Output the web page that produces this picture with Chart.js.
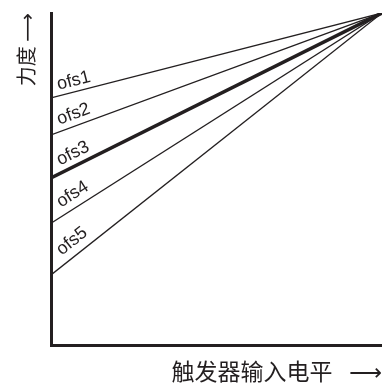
<!DOCTYPE html>
<html>
<head>
<meta charset="utf-8">
<script src="https://cdn.jsdelivr.net/npm/chart.js@4"></script>
<style>
  html, body { margin: 0; padding: 0; background: #fff; }
</style>
</head>
<body>
<canvas id="trigChart" width="382" height="385"></canvas>
<script>
// trigger level (x) vs force (y), offsets all meet at the top right
const xLevels = [0, 100];
const seriesNames = ['ofs1', 'ofs2', 'ofs3', 'ofs4', 'ofs5'];
const ofs1 = [74.4, 100];
const ofs2 = [63.3, 100];
const ofs3 = [50.3, 100];
const ofs4 = [36.7, 100];
const ofs5 = [21.1, 100];
const xTitle = '触发器输入电平\u2002 ⟶';
const yTitle = '力度 ⟶';

const INK = '#231f20';
const CJK = '"Noto Sans CJK SC", "DejaVu Sans", sans-serif';

const series = [ofs1, ofs2, ofs3, ofs4, ofs5];

const datasets = series.map((vals, i) => ({
    label: seriesNames[i],
    data: xLevels.map((x, j) => ({ x: x, y: vals[j] })),
    borderColor: INK,
    borderWidth: seriesNames[i] === 'ofs3' ? 3.5 : 1.3,
    pointRadius: 0,
    tension: 0,
    fill: false
}));

// write each ofs name just above its line, turned to follow it
const ofsLabels = {
    id: 'ofsLabels',
    afterDatasetsDraw(chart) {
        const ctx = chart.ctx;
        chart.data.datasets.forEach((ds, i) => {
            const pts = chart.getDatasetMeta(i).data;
            const a = Math.atan2(pts[1].y - pts[0].y, pts[1].x - pts[0].x);
            const lift = 6 + i * 0.6;
            const startX = 7.5 + i * 0.8;
            const u = (startX + lift * Math.sin(-a)) / Math.cos(a);
            ctx.save();
            ctx.translate(pts[0].x, pts[0].y);
            ctx.rotate(a);
            ctx.font = '18px "Liberation Sans", Arial, sans-serif';
            ctx.fillStyle = INK;
            ctx.textAlign = 'left';
            ctx.textBaseline = 'alphabetic';
            ctx.fillText(ds.label, u, -lift);
            ctx.restore();
        });
    }
};

new Chart(document.getElementById('trigChart'), {
    type: 'line',
    data: { datasets: datasets },
    options: {
        responsive: false,
        animation: false,
        layout: { padding: { top: 13, right: 0, left: 0, bottom: 0 } },
        plugins: {
            legend: { display: false },
            tooltip: { enabled: false }
        },
        scales: {
            x: {
                type: 'linear',
                min: 0,
                max: 100,
                ticks: { display: false },
                grid: { display: false },
                border: { display: true, width: 3, color: INK },
                title: {
                    display: true,
                    text: xTitle,
                    align: 'end',
                    color: INK,
                    font: { family: CJK, size: 23 },
                    padding: { top: 0, bottom: 0 }
                },
                afterFit(s) { s.height = 40; }
            },
            y: {
                type: 'linear',
                min: 0,
                max: 100,
                ticks: { display: false },
                grid: { display: false },
                border: { display: true, width: 3, color: INK },
                title: {
                    display: true,
                    text: yTitle,
                    align: 'end',
                    color: INK,
                    font: { family: CJK, size: 20 },
                    padding: { top: 14, bottom: 0 }
                },
                afterFit(s) { s.width = 51; }
            }
        }
    },
    plugins: [ofsLabels]
});
</script>
</body>
</html>
